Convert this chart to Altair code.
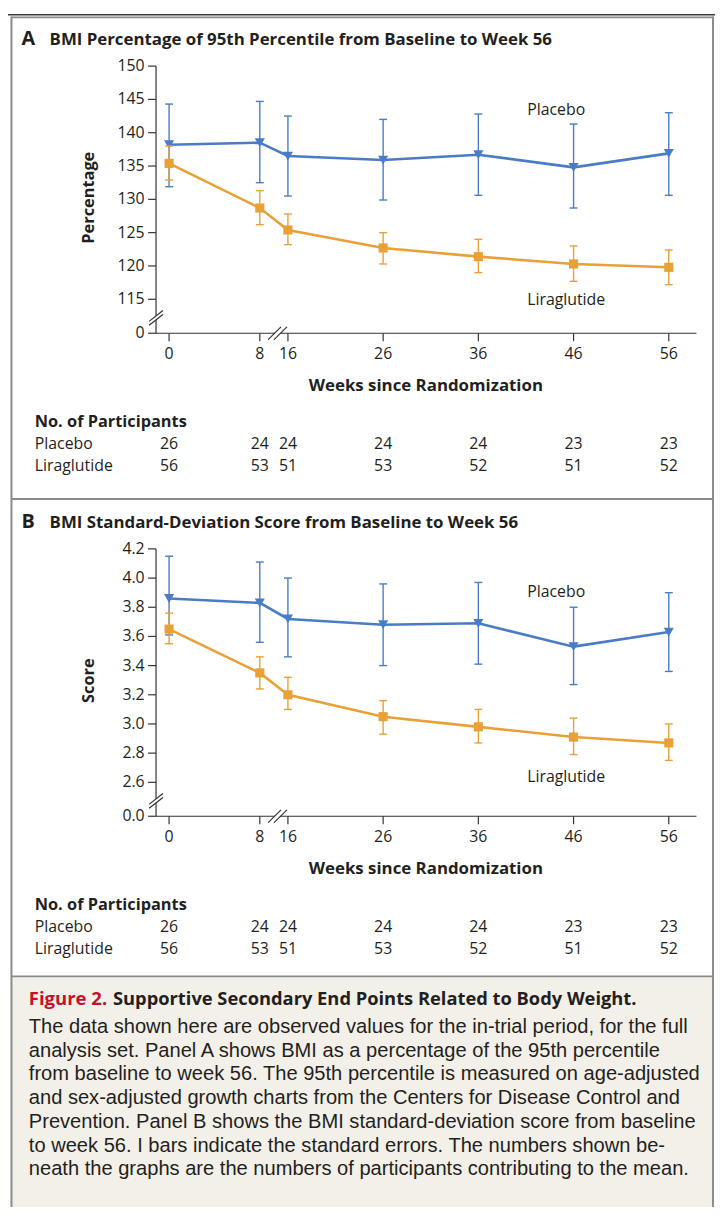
import altair as alt
import pandas as pd

FONT = "Open Sans"
CAPTION_FONT = "Liberation Sans"
INK = "#231f20"
BLUE = "#4a7cc6"
ORANGE = "#e9a036"
BORDER = "#8a8a8a"

# ---------------- data ----------------
weeks = [0, 8, 16, 26, 36, 46, 56]
week_labels = ["0", "8", "16", "26", "36", "46", "56"]

a_placebo_mean = [138.2, 138.5, 136.5, 135.9, 136.7, 134.8, 136.9]
a_placebo_lo = [131.9, 132.5, 130.5, 129.9, 130.6, 128.7, 130.6]
a_placebo_hi = [144.3, 144.7, 142.5, 142.0, 142.8, 141.3, 143.0]
a_lira_mean = [135.4, 128.7, 125.4, 122.7, 121.4, 120.3, 119.8]
a_lira_lo = [132.9, 126.2, 123.2, 120.3, 119.0, 117.7, 117.2]
a_lira_hi = [138.0, 131.3, 127.8, 125.0, 124.0, 123.0, 122.4]

b_placebo_mean = [3.86, 3.83, 3.72, 3.68, 3.69, 3.53, 3.63]
b_placebo_lo = [3.61, 3.56, 3.46, 3.40, 3.41, 3.27, 3.36]
b_placebo_hi = [4.15, 4.11, 4.00, 3.96, 3.97, 3.80, 3.90]
b_lira_mean = [3.65, 3.35, 3.20, 3.05, 2.98, 2.91, 2.87]
b_lira_lo = [3.55, 3.24, 3.10, 2.93, 2.87, 2.79, 2.75]
b_lira_hi = [3.76, 3.46, 3.32, 3.16, 3.10, 3.04, 3.00]

n_placebo = [26, 24, 24, 24, 24, 23, 23]
n_lira = [56, 53, 51, 53, 52, 51, 52]

a_yticks = [0, 115, 120, 125, 130, 135, 140, 145, 150]
a_ytick_labels = ["0", "115", "120", "125", "130", "135", "140", "145", "150"]
b_yticks = [0.0, 2.6, 2.8, 3.0, 3.2, 3.4, 3.6, 3.8, 4.0, 4.2]
b_ytick_labels = ["0.0", "2.6", "2.8", "3.0", "3.2", "3.4", "3.6", "3.8", "4.0", "4.2"]

title_a = "BMI Percentage of 95th Percentile from Baseline to Week 56"
title_b = "BMI Standard-Deviation Score from Baseline to Week 56"
caption_head = "Figure 2."
caption_title = "Supportive Secondary End Points Related to Body Weight."
caption_lines = [
    "The data shown here are observed values for the in-trial period, for the full",
    "analysis set. Panel A shows BMI as a percentage of the 95th percentile",
    "from baseline to week 56. The 95th percentile is measured on age-adjusted",
    "and sex-adjusted growth charts from the Centers for Disease Control and",
    "Prevention. Panel B shows the BMI standard-deviation score from baseline",
    "to week 56. I bars indicate the standard errors. The numbers shown be-",
    "neath the graphs are the numbers of participants contributing to the mean.",
]

# ---------------- scales (broken axes as piecewise scales) ----------------
X = alt.Scale(domain=[-1.15, 8, 16, 58.91], range=[149.5, 254.3, 282.7, 695.3], nice=False, zero=False)
YA = alt.Scale(domain=[0, 115, 150], range=[322.5, 288.2, 52.7], nice=False, zero=False)
YB = alt.Scale(domain=[0, 2.6, 4.2], range=[810.3, 776.0, 540.3], nice=False, zero=False)

dummy = pd.DataFrame({"d": [0]})


def seg(x, y, x2, y2, color="#333333", w=1.2):
    return alt.Chart(dummy).mark_rule(color=color, strokeWidth=w).encode(
        x=alt.value(x), y=alt.value(y), x2=alt.value(x2), y2=alt.value(y2))


def box(x, y, x2, y2, fill):
    return alt.Chart(dummy).mark_rect(fill=fill).encode(
        x=alt.value(x), y=alt.value(y), x2=alt.value(x2), y2=alt.value(y2))


def label(text, x, y, size=16, weight="normal", align="left", baseline="middle",
          color=INK, angle=None, line_height=None, font=FONT):
    kw = dict(fontSize=size, fontWeight=weight, align=align, baseline=baseline,
              color=color, font=font)
    if angle is not None:
        kw["angle"] = angle
    if line_height is not None:
        kw["lineHeight"] = line_height
    return alt.Chart(dummy).mark_text(**kw).encode(
        x=alt.value(x), y=alt.value(y), text=alt.value(text))


def series(mean, lo, hi, yscale, color, shape, size):
    df = pd.DataFrame({"week": weeks, "mean": mean, "lo": lo, "hi": hi})
    base = alt.Chart(df)
    xq = alt.X("week:Q", scale=X, axis=None)
    bars = base.mark_rule(color=color, strokeWidth=1.4).encode(
        x=xq, y=alt.Y("lo:Q", scale=yscale, axis=None), y2="hi:Q")
    cap_hi = base.mark_rule(color=color, strokeWidth=1.4, xOffset=-4, x2Offset=4).encode(
        x=xq, x2="week:Q", y=alt.Y("hi:Q", scale=yscale, axis=None))
    cap_lo = base.mark_rule(color=color, strokeWidth=1.4, xOffset=-4, x2Offset=4).encode(
        x=xq, x2="week:Q", y=alt.Y("lo:Q", scale=yscale, axis=None))
    line = base.mark_line(color=color, strokeWidth=2.6).encode(
        x=xq, y=alt.Y("mean:Q", scale=yscale, axis=None))
    pts = base.mark_point(shape=shape, filled=True, size=size, color=color, opacity=1).encode(
        x=xq, y=alt.Y("mean:Q", scale=yscale, axis=None))
    return [bars, cap_hi, cap_lo, line, pts]


def panel(letter, title, ytitle, yticks, yticklabels, yscale, y_axis_top, x_axis_y,
          title_base, series_layers, lbl_placebo_y, lbl_lira_y):
    L = []
    L.append(label(letter, 13.7, title_base, size=20, weight="bold", baseline="alphabetic"))
    L.append(label(title, 42, title_base, size=17, weight="bold", baseline="alphabetic"))
    # y axis
    L.append(seg(149.5, y_axis_top, 149.5, x_axis_y))
    ydf = pd.DataFrame({"v": yticks, "lbl": yticklabels})
    L.append(alt.Chart(ydf).mark_rule(color="#333333", strokeWidth=1.2).encode(
        y=alt.Y("v:Q", scale=yscale, axis=None), x=alt.value(141.5), x2=alt.value(149.5)))
    L.append(alt.Chart(ydf).mark_text(fontSize=16, font=FONT, color=INK, align="right",
                                      baseline="middle").encode(
        y=alt.Y("v:Q", scale=yscale, axis=None), x=alt.value(138), text="lbl:N"))
    L.append(label(ytitle, 82, (y_axis_top + x_axis_y) / 2 - 2, size=16.5, weight="bold",
                   align="center", angle=270))
    # x axis
    L.append(seg(149.5, x_axis_y, 695.3, x_axis_y))
    xdf = pd.DataFrame({"week": weeks, "lbl": week_labels, "np": n_placebo, "nl": n_lira})
    xq = alt.X("week:Q", scale=X, axis=None)
    L.append(alt.Chart(xdf).mark_rule(color="#333333", strokeWidth=1.2).encode(
        x=xq, y=alt.value(x_axis_y), y2=alt.value(x_axis_y + 8)))
    L.append(alt.Chart(xdf).mark_text(fontSize=16, font=FONT, color=INK, align="center",
                                      baseline="middle").encode(
        x=xq, y=alt.value(x_axis_y + 21.2), text="lbl:N"))
    L.append(label("Weeks since Randomization", 422, x_axis_y + 53.5, size=17,
                   weight="bold", align="center"))
    # breaks on y axis
    by = x_axis_y - 18
    L.append(seg(142.5, by + 8, 156.5, by - 3, color="white", w=3.5))
    L.append(seg(142.5, by + 6, 156.5, by - 5, color="#333333", w=1.2))
    L.append(seg(142.5, by + 10, 156.5, by - 1, color="#333333", w=1.2))
    # breaks on x axis
    L.append(seg(265.7, x_axis_y + 6.5, 278.7, x_axis_y - 6.5, color="white", w=4))
    L.append(seg(262.7, x_axis_y + 6.5, 275.7, x_axis_y - 6.5, color="#333333", w=1.2))
    L.append(seg(268.7, x_axis_y + 6.5, 281.7, x_axis_y - 6.5, color="#333333", w=1.2))
    # data
    L.extend(series_layers)
    L.append(label("Placebo", 524.3, lbl_placebo_y, size=16))
    L.append(label("Liraglutide", 524.3, lbl_lira_y, size=16))
    # participants table
    L.append(label("No. of Participants", 27, x_axis_y + 89.5, size=16.5, weight="bold"))
    L.append(label("Placebo", 27, x_axis_y + 111.5, size=16))
    L.append(label("Liraglutide", 27, x_axis_y + 134.5, size=16))
    L.append(alt.Chart(xdf).mark_text(fontSize=16, font=FONT, color=INK, align="center",
                                      baseline="middle").encode(
        x=xq, y=alt.value(x_axis_y + 111.5), text="np:Q"))
    L.append(alt.Chart(xdf).mark_text(fontSize=16, font=FONT, color=INK, align="center",
                                      baseline="middle").encode(
        x=xq, y=alt.value(x_axis_y + 134.5), text="nl:Q"))
    return L


layers = []
# frame and caption background
layers.append(box(3.5, 972, 712, 1205, "#f3f0e9"))
layers.append(seg(0, 0.75, 714, 0.75, color="#3a3a3a", w=1.5))
layers.append(seg(3.5, 3.5, 712, 3.5, color=BORDER, w=2))
layers.append(seg(3.5, 490, 712, 490, color=BORDER, w=2))
layers.append(seg(3.5, 972, 712, 972, color=BORDER, w=2))
layers.append(seg(3.5, 2.5, 3.5, 1205, color=BORDER, w=2))
layers.append(seg(712, 2.5, 712, 1205, color=BORDER, w=2))

ser_a = (series(a_placebo_mean, a_placebo_lo, a_placebo_hi, YA, BLUE, "triangle-down", 105)
         + series(a_lira_mean, a_lira_lo, a_lira_hi, YA, ORANGE, "square", 85))
ser_b = (series(b_placebo_mean, b_placebo_lo, b_placebo_hi, YB, BLUE, "triangle-down", 105)
         + series(b_lira_mean, b_lira_lo, b_lira_hi, YB, ORANGE, "square", 85))

layers += panel("A", title_a, "Percentage", a_yticks, a_ytick_labels, YA, 52.7, 322.5, 31.3,
                ser_a, 97, 288.7)
layers += panel("B", title_b, "Score", b_yticks, b_ytick_labels, YB, 540.3, 810.3, 519,
                ser_b, 584.3, 770.3)

# caption
layers.append(label(caption_head, 21, 1001, size=18.7, weight="bold", color="#c8102e",
                    baseline="alphabetic"))
layers.append(label(caption_title, 106, 1001, size=18.5, weight="bold", baseline="alphabetic"))
layers.append(label(caption_lines, 21, 1029, size=20.3, baseline="alphabetic", line_height=24,
                    font=CAPTION_FONT))

chart = alt.layer(*layers).properties(
    width=714, height=1205, padding=0, autosize=alt.AutoSizeParams(type="none"),
    background="white",
).resolve_scale(x="independent", y="independent").configure_view(stroke=None)

chart.save("out.html", embed_options={"renderer": "svg", "actions": False})
